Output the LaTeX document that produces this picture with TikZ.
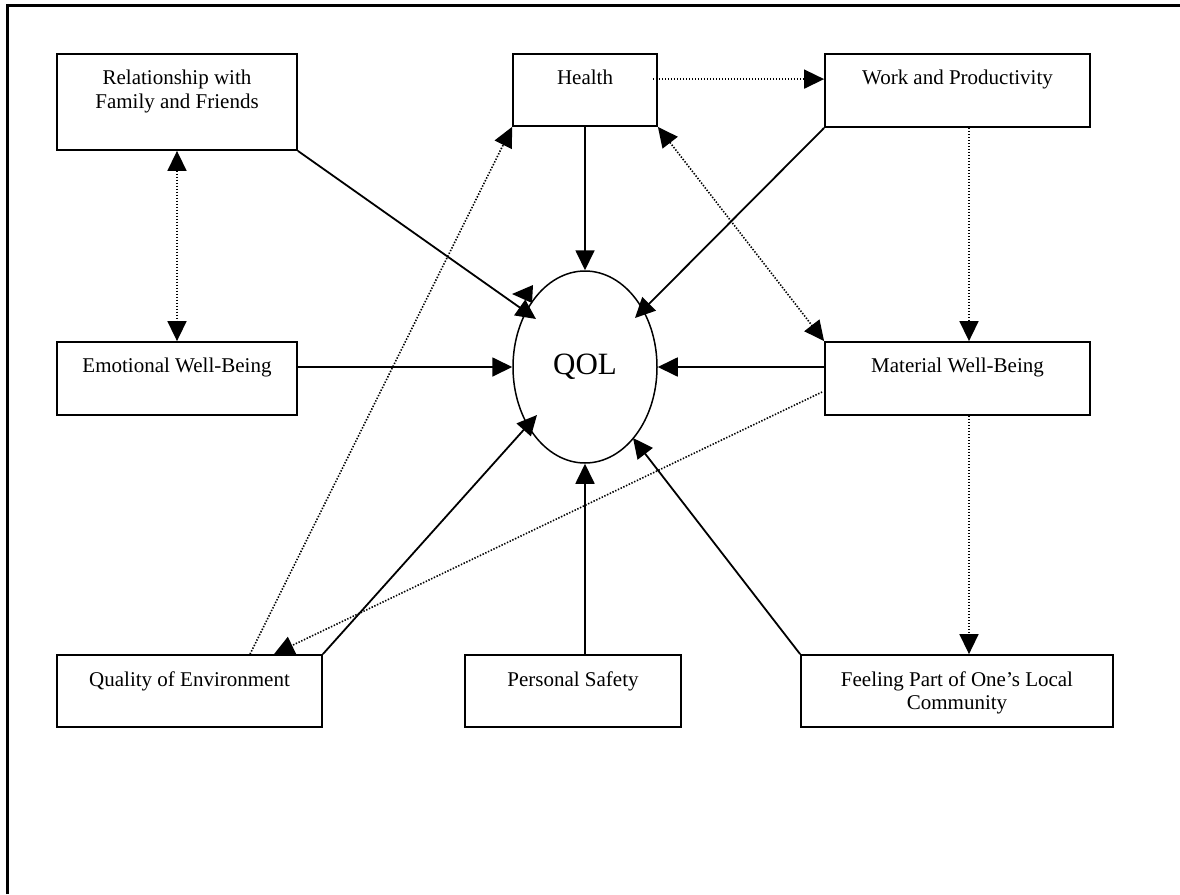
\documentclass[tikz,border=0pt]{standalone}
\usepackage{fontspec}
\setmainfont{Liberation Serif}
\usetikzlibrary{arrows.meta,calc,shapes.geometric}
\begin{document}
\begin{tikzpicture}[x=1pt,y=-1pt,
  box/.style={draw, line width=1.8pt, inner sep=0pt, rectangle},
  txt/.style={anchor=north, yshift=-17pt, inner sep=0pt, align=center, font=\fontsize{21}{23.5}\selectfont},
  tip/.style={-{Triangle[length=20pt,width=19pt]}},
  solidarrow/.style={line width=1.8pt, tip},
  dotline/.style={line width=1.6pt, dash pattern=on 1.4pt off 1.6pt},
  dotarrow/.style={dotline, tip},
  dotboth/.style={dotline, {Triangle[length=20pt,width=19pt]}-{Triangle[length=20pt,width=19pt]}},
]
\useasboundingbox (0,0) rectangle (1180,894);
\draw[line width=3pt] (7,894) -- (7,5) -- (1180,5);

% boxes
\node[box, minimum width=240pt, minimum height=96pt] (rel) at (177,102) {};
\node[box, minimum width=144pt, minimum height=72pt] (health) at (585,90) {};
\node[box, minimum width=265pt, minimum height=73pt] (work) at (957.5,90.5) {};
\node[box, minimum width=240pt, minimum height=73pt] (emo) at (177,378.5) {};
\node[box, minimum width=265pt, minimum height=73pt] (mat) at (957.5,378.5) {};
\node[box, minimum width=265pt, minimum height=72pt] (qoe) at (189.5,691) {};
\node[box, minimum width=216pt, minimum height=72pt] (ps) at (573,691) {};
\node[box, minimum width=312pt, minimum height=72pt] (feel) at (957,691) {};
\node[draw, ellipse, line width=1.5pt, minimum width=144pt, minimum height=192pt, inner sep=0pt,
      font=\fontsize{31}{31}\selectfont] (qol) at (585,367) {QOL};

% texts
\node[txt] (relT) at (rel.north) {Relationship with\\Family and Friends};
\node[txt] (healthT) at (health.north) {Health};
\node[txt] (workT) at (work.north) {Work and Productivity};
\node[txt] (emoT) at (emo.north) {Emotional Well-Being};
\node[txt] (matT) at (mat.north) {Material Well-Being};
\node[txt] (qoeT) at (qoe.north) {Quality of Environment};
\node[txt] (psT) at (ps.north) {Personal Safety};
\node[txt] (feelT) at (feel.north) {Feeling Part of One’s Local\\Community};

% solid arrows to QOL
\draw[solidarrow] (rel.south east) -- ($(qol.center)+(-49,-48)$);
\draw[solidarrow] (health.south) -- (qol.north);
\draw[solidarrow] (work.south west) -- ($(qol.center)+(50,-49)$);
\draw[solidarrow] (emo.east |- qol.west) -- (qol.west);
\draw[solidarrow] (mat.west |- qol.east) -- (qol.east);
\draw[solidarrow] (qoe.north east) -- ($(qol.center)+(-48,48)$);
\draw[solidarrow] ($(ps.north)+(12,0)$) -- (qol.south);
\draw[solidarrow] (feel.north west) -- ($(qol.center)+(48,71)$);
\fill (512,294) -- (533,285) -- (532,303) -- cycle;

% dotted connectors
\draw[dotboth] (rel.south) -- (emo.north);
\draw[dotarrow] ($(health.north east)+(-5,26)$) -- ($(work.north west)+(0,26)$);
\draw[dotboth] (health.south east) -- (mat.north west);
\draw[dotarrow] ($(work.south)+(11.5,0)$) -- ($(mat.north)+(11.5,0)$);
\draw[dotarrow] ($(mat.south)+(11.5,0)$) -- ($(feel.north)+(12,0)$);
\draw[dotarrow] ($(mat.west)+(-2,13.5)$) -- ($(qoe.north)+(84.5,0)$);
\draw[dotarrow] ($(qoe.north)+(60.5,0)$) -- (health.south west);
\end{tikzpicture}
\end{document}
